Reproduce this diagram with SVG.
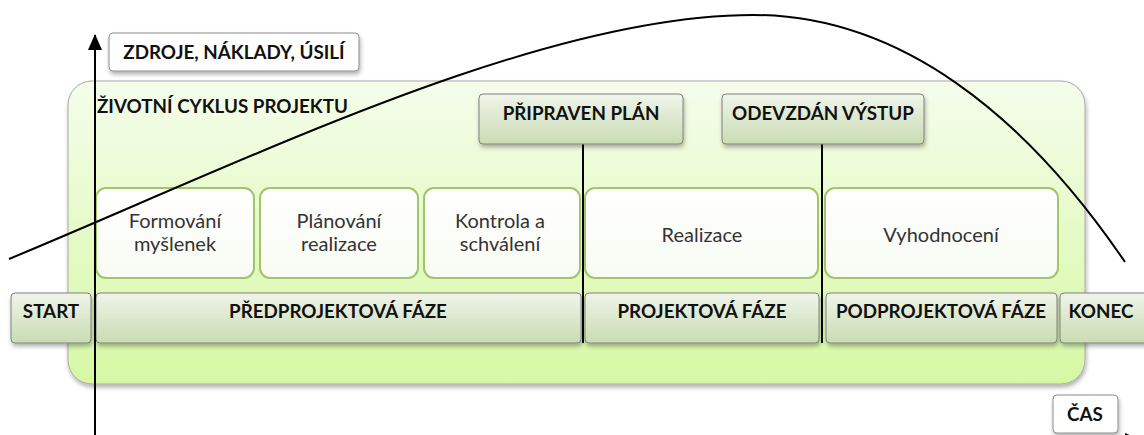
<svg xmlns="http://www.w3.org/2000/svg" width="1144" height="435" viewBox="0 0 1144 435">
<defs>
<linearGradient id="gCont" x1="0" y1="0" x2="0" y2="1"><stop offset="0" stop-color="#f5fdeb"/><stop offset="1" stop-color="#d6f8a4"/></linearGradient>
<linearGradient id="gBar" x1="0" y1="0" x2="0" y2="1"><stop offset="0" stop-color="#f0f4ea"/><stop offset="1" stop-color="#c9dcb3"/></linearGradient>
<linearGradient id="gAct" x1="0" y1="0" x2="0" y2="1"><stop offset="0" stop-color="#ffffff"/><stop offset="1" stop-color="#f8fbf3"/></linearGradient>
<filter id="sh" x="-10%" y="-20%" width="120%" height="150%"><feDropShadow dx="1" dy="3" stdDeviation="2" flood-color="#000" flood-opacity="0.3"/></filter>
<marker id="arrY" viewBox="0 0 16 14" refX="15" refY="7" markerWidth="16" markerHeight="14" markerUnits="userSpaceOnUse" orient="auto"><path d="M0,0 L16,7 L0,14 z" fill="#000"/></marker>
</defs>
<style>
.bar{fill:url(#gBar);stroke:#808080;stroke-width:1;filter:url(#sh)}
.act{fill:url(#gAct);stroke:#a2c46b;stroke-width:2}
.wb{fill:#fff;stroke:#8c8c8c;stroke-width:1;filter:url(#sh)}
.b{font-family:Lato,"Liberation Sans",sans-serif;font-weight:bold;font-size:18.8px;fill:#111;text-anchor:middle}
.r{font-family:Lato,"Liberation Sans",sans-serif;font-size:20px;fill:#333;text-anchor:middle}
.ln{stroke:#000;stroke-width:2;fill:none}
</style>
<g id="container">
<rect x="68" y="81" width="1017" height="303" rx="24" fill="url(#gCont)" stroke="#a8a8a8" stroke-width="1" filter="url(#sh)"/>
<text x="97" y="113" class="b" style="text-anchor:start">ŽIVOTNÍ CYKLUS PROJEKTU</text>
</g>
<g id="activities">
<g id="formovani"><rect x="96" y="188" width="158" height="90" rx="10" class="act"/><text class="r" x="175" y="228">Formování</text><text class="r" x="175" y="251">myšlenek</text></g>
<g id="planovani"><rect x="260" y="188" width="158" height="90" rx="10" class="act"/><text class="r" x="339" y="228">Plánování</text><text class="r" x="339" y="251">realizace</text></g>
<g id="kontrola"><rect x="424" y="188" width="156" height="90" rx="10" class="act"/><text class="r" x="500" y="228">Kontrola a</text><text class="r" x="500" y="251">schválení</text></g>
<g id="realizace"><rect x="585" y="188" width="233" height="90" rx="10" class="act"/><text class="r" x="702" y="242">Realizace</text></g>
<g id="vyhodnoceni"><rect x="825" y="188" width="233" height="90" rx="10" class="act"/><text class="r" x="941" y="242">Vyhodnocení</text></g>
</g>
<g id="phases">
<g id="start"><rect x="11" y="293" width="80" height="50" rx="4" class="bar"/><text class="b" x="51" y="318">START</text></g>
<g id="predprojektova"><rect x="96" y="293" width="485" height="50" rx="4" class="bar"/><text class="b" x="338" y="318">PŘEDPROJEKTOVÁ FÁZE</text></g>
<g id="projektova"><rect x="585" y="293" width="234" height="50" rx="4" class="bar"/><text class="b" x="702" y="318">PROJEKTOVÁ FÁZE</text></g>
<g id="podprojektova"><rect x="826" y="293" width="231" height="50" rx="4" class="bar"/><text class="b" x="941" y="318">PODPROJEKTOVÁ FÁZE</text></g>
<g id="konec"><rect x="1060" y="293" width="90" height="50" rx="4" class="bar"/><text class="b" x="1101" y="318">KONEC</text></g>
</g>
<g id="connectors">
<line x1="583" y1="144" x2="583" y2="343" class="ln"/>
<line x1="822" y1="144" x2="822" y2="343" class="ln"/>
<line x1="95" y1="440" x2="95" y2="35" class="ln" marker-end="url(#arrY)"/>
<line x1="95" y1="438" x2="1140" y2="440" class="ln" marker-end="url(#arrY)"/>
<path d="M9,259 C250,159 540,15 753,15 C900,15 1025,115 1125,262" class="ln"/>
</g>
<g id="milestones">
<g id="pripraven"><rect x="479" y="94" width="204" height="50" rx="4" class="bar"/><text class="b" x="581" y="120">PŘIPRAVEN PLÁN</text></g>
<g id="odevzdan"><rect x="722" y="94" width="202" height="50" rx="4" class="bar"/><text class="b" x="823" y="120">ODEVZDÁN VÝSTUP</text></g>
</g>
<g id="axis-labels">
<g id="zdroje"><rect x="109" y="33" width="250" height="38" rx="4" class="wb"/><text class="b" x="234" y="59">ZDROJE, NÁKLADY, ÚSILÍ</text></g>
<g id="cas"><rect x="1053" y="395" width="65" height="38" rx="4" class="wb"/><text class="b" x="1085" y="421">ČAS</text></g>
</g>
</svg>
